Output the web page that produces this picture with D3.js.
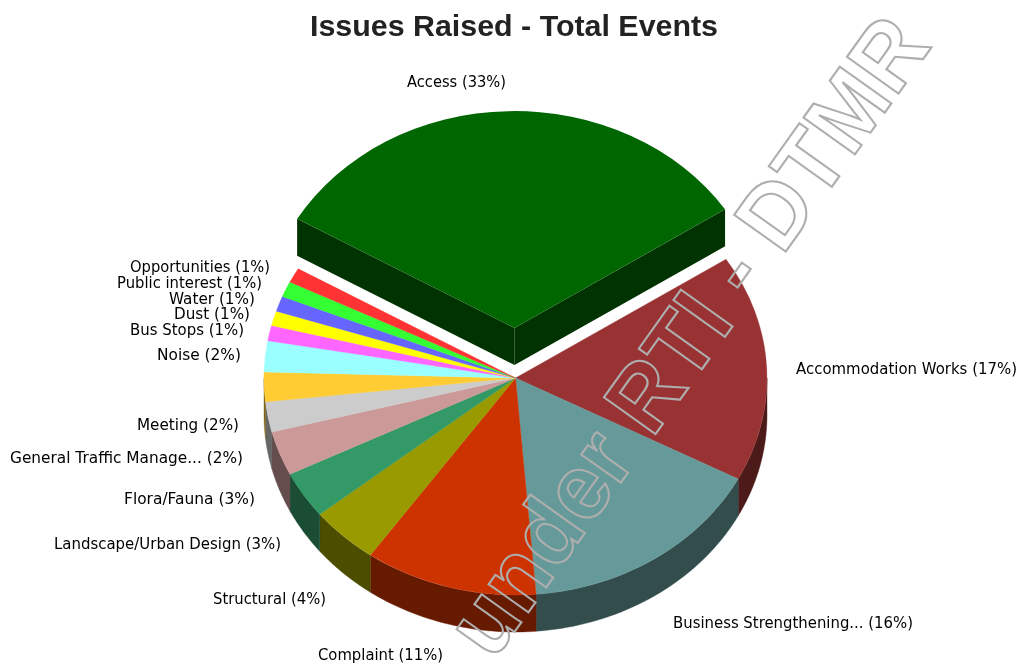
<!DOCTYPE html>
<html><head><meta charset="utf-8">
<script src="https://cdn.jsdelivr.net/npm/d3@7/dist/d3.min.js"></script>
<style>
html,body{margin:0;padding:0;background:#fff;overflow:hidden}
svg{display:block;filter:blur(0.45px)}
</style></head><body>
<svg id="chart" width="1019" height="667"></svg>
<script>
const chartTitle = "Issues Raised - Total Events";
const watermark = "under RTI - DTMR";
const categories = ["Access","Accommodation Works","Business Strengthening...","Complaint","Structural","Landscape/Urban Design","Flora/Fauna","General Traffic Manage...","Meeting","Noise","Bus Stops","Dust","Water","Public interest","Opportunities"];
const shownPercent = [33,17,16,11,4,3,3,2,2,2,1,1,1,1,1];
const values = [32.4,16.9,16.0,11.1,4.4,3.5,3.3,2.25,2.2,2.3,1.14,1.1,1.15,1.14,1.11];
const topColors = ["#006600","#993333","#669999","#cc3300","#999900","#339966","#cc9999","#cccccc","#ffcc33","#99ffff","#ff66ff","#ffff00","#6666ff","#33ff33","#ff3333"];
// label layout: [x, y-centre, anchor, width]
const labelLayout = [[407,82,"start",99],[796,369,"start",221],[673,623,"start",240],[318,655,"start",125],[213,599,"start",113],[54,544,"start",227],[124,499,"start",131],[10,458,"start",233],[137,425,"start",102],[157,355,"start",84],[130,330,"start",114],[174,314,"start",76],[169,299,"start",86],[117,283,"start",145],[130,267,"start",140]];

const cx=515.5, cy=378, rx=251.5, ry=217, depth=37, explode=50, explodeX=1;
const svg=d3.select("#chart");
const rad=d3.scaleLinear().domain([0,360]).range([0,2*Math.PI]);
const arcs=d3.pie().sort(null).value(d=>d).startAngle(rad(-59.8)).endAngle(rad(300.2))(values);
const unit=d3.arc().innerRadius(0).outerRadius(1);
const px=(a,x0=cx)=>x0+rx*Math.sin(a);
const py=(a,y0=cy)=>y0-ry*Math.cos(a);
const dark=c=>{const k=d3.rgb(c);return d3.rgb(k.r/2,k.g/2,k.b/2).formatHex();};

// outer walls of the main pie (front half only)
const gWalls=svg.append("g");
arcs.slice(1).forEach((d,i)=>{
  const a0=Math.max(d.startAngle,Math.PI/2), a1=Math.min(d.endAngle,Math.PI*1.5);
  if(a1<=a0) return;
  const p=d3.path();
  p.moveTo(px(a0),py(a0));
  const n=40;
  d3.range(1,n+1).forEach(k=>{const a=a0+(a1-a0)*k/n;p.lineTo(px(a),py(a));});
  d3.range(n,-1,-1).forEach(k=>{const a=a0+(a1-a0)*k/n;p.lineTo(px(a),py(a)+depth);});
  p.closePath();
  gWalls.append("path").attr("d",p.toString()).attr("fill",dark(topColors[i+1])).attr("stroke",dark(topColors[i+1])).attr("stroke-width",0.4);
});
// top surfaces of main pie
const gTop=svg.append("g").attr("transform",`translate(${cx},${cy}) scale(${rx},${ry})`);
gTop.selectAll("path").data(arcs.slice(1)).join("path")
  .attr("d",unit).attr("fill",(d,i)=>topColors[i+1])
  .attr("stroke",(d,i)=>topColors[i+1]).attr("stroke-width",0.4).attr("vector-effect","non-scaling-stroke");

// exploded slice
const ex=arcs[0], ey=cy-explode, ecx=cx-explodeX;
const wall=(a)=>{
  const p=d3.path();
  p.moveTo(ecx,ey);p.lineTo(px(a,ecx),py(a,ey));p.lineTo(px(a,ecx),py(a,ey)+depth);p.lineTo(ecx,ey+depth);p.closePath();
  return p.toString();
};
[ex.startAngle,ex.endAngle].forEach(a=>svg.append("path").attr("d",wall(a)).attr("fill",dark(topColors[0])));
svg.append("g").attr("transform",`translate(${ecx},${ey}) scale(${rx},${ry})`)
  .append("path").datum(ex).attr("d",unit).attr("fill",topColors[0]);

// labels
svg.append("g").selectAll("text").data(categories).join("text")
  .attr("x",(d,i)=>labelLayout[i][0]).attr("y",(d,i)=>labelLayout[i][1])
  .attr("dy","0.36em").attr("text-anchor",(d,i)=>labelLayout[i][2])
  .attr("font-family","'DejaVu Sans',sans-serif").attr("font-size",15).attr("fill","#000")
  .attr("textLength",(d,i)=>labelLayout[i][3]).attr("lengthAdjust","spacingAndGlyphs")
  .text((d,i)=>`${d} (${shownPercent[i]}%)`);

// title
svg.append("text").attr("x",514).attr("y",36).attr("text-anchor","middle")
  .attr("font-family","'Liberation Sans',Arial,sans-serif").attr("font-weight","bold")
  .attr("font-size",29).attr("fill","#222")
  .attr("textLength",408).attr("lengthAdjust","spacingAndGlyphs").text(chartTitle);

// watermark
svg.append("text").attr("transform","translate(493,662) rotate(-54.5)")
  .attr("font-family","'Liberation Sans',Arial,sans-serif").attr("font-size",92).attr("font-weight","bold")
  .attr("fill","none").attr("stroke","#aeaeae").attr("stroke-width",2.1)
  .attr("textLength",757).attr("lengthAdjust","spacingAndGlyphs")
  .text(watermark);
</script>
</body></html>
